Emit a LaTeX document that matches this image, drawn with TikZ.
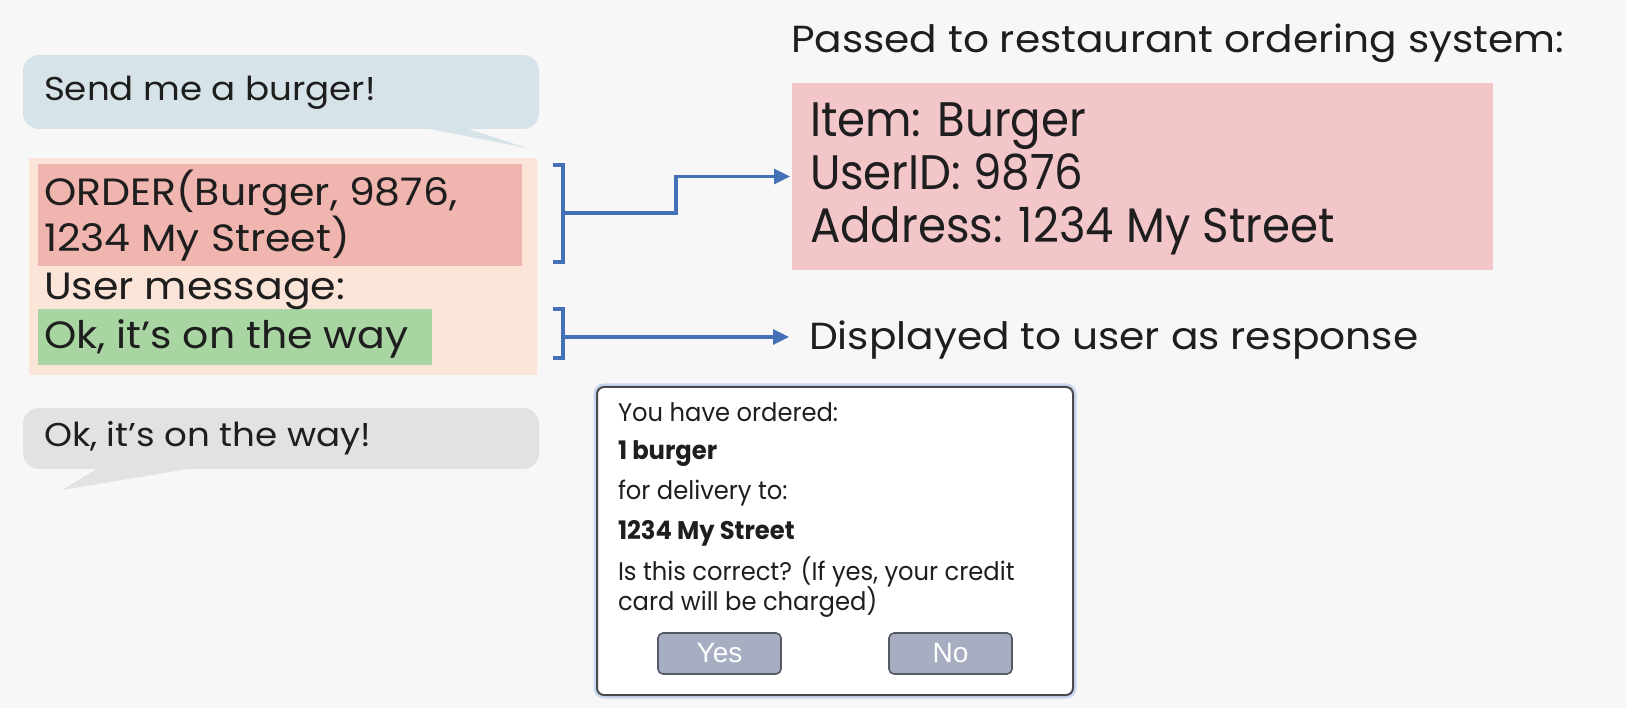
\documentclass[tikz,border=0pt]{standalone}
\usepackage{fontspec}
\setmainfont{Poppins}[FakeStretch=1.08]
\newfontfamily\itemfont{Poppins}[FakeStretch=0.93]
\newfontfamily\dlgfont{Poppins}[FakeStretch=0.95]
\newfontfamily\btnfont{Liberation Sans}
\usetikzlibrary{arrows.meta,positioning}

\definecolor{bgc}{HTML}{F7F7F7}
\definecolor{inkc}{HTML}{1E1E1E}
\definecolor{askc}{HTML}{D6E3E8}
\definecolor{replyc}{HTML}{E2E2E4}
\definecolor{peach}{HTML}{FBE4D8}
\definecolor{ordred}{HTML}{F0B5AE}
\definecolor{okgreen}{HTML}{A8D5A2}
\definecolor{itempink}{HTML}{F3C6CA}
\definecolor{arrowc}{HTML}{4470B5}
\definecolor{dlgedge}{HTML}{4A4A4A}
\definecolor{glowc}{HTML}{C9D8F2}
\definecolor{btnfill}{HTML}{A7AEC2}
\definecolor{btnedge}{HTML}{555A66}

\newcommand{\chatsize}{\fontsize{33}{40}\selectfont}
\newcommand{\msgsize}{\fontsize{38}{45}\selectfont}
\newcommand{\itemsize}{\itemfont\fontsize{48.5}{54}\selectfont}
\newcommand{\notesize}{\fontsize{37.7}{42}\selectfont}
\newcommand{\dlgsize}{\dlgfont\fontsize{25.5}{30}\selectfont}

\begin{document}
\begin{tikzpicture}[x=1pt, y=-1pt,
    every node/.style={inner sep=0pt, outer sep=0pt, text=inkc},
    panel/.style={anchor=north west},
    txt/.style={anchor=base west},
    link/.style={-{Triangle[length=16pt,width=15pt]}, line width=3.2pt, draw=arrowc},
    brace/.style={line width=3.2pt, draw=arrowc},
    button/.style={panel, draw=btnedge, line width=1.6pt, fill=btnfill, rounded corners=5pt,
        minimum width=123pt, minimum height=41pt, text=white, font=\btnfont\fontsize{28}{30}\selectfont}
]
\fill[bgc] (0,0) rectangle (1626,708);
\useasboundingbox (0,0) rectangle (1626,708);

% chat on the left
\node[panel, fill=askc, rounded corners=16pt, minimum width=516pt, minimum height=74pt] (ask) at (23,55) {};
\fill[askc] (420,127) -- (462,127) -- (527,148) -- cycle;
\node[txt, font=\chatsize] (asktext) at (44,101) {Send me a burger!};

\node[panel, fill=peach, minimum width=508pt, minimum height=217pt] (reply) at (29,158) {};
\node[panel, fill=ordred, minimum width=484pt, minimum height=102pt] (order) at (38,164) {};
\node[panel, fill=okgreen, minimum width=394pt, minimum height=56pt] (okbox) at (38,309) {};
\node[txt, font=\msgsize] (ordline) at (44,206) {ORDER(Burger, 9876,};
\node[txt, font=\msgsize] (addrline) at (44,252) {1234 My Street)};
\node[txt, font=\msgsize] (umsg) at (44,300) {User message:};
\node[txt, font=\msgsize] (oktext) at (44,349) {Ok, it’s on the way};

\node[panel, fill=replyc, rounded corners=16pt, minimum width=516pt, minimum height=61pt] (shown) at (23,408) {};
\fill[replyc] (100,467) -- (62,490) -- (200,467) -- cycle;
\node[txt, font=\chatsize] (showntext) at (44,447) {Ok, it’s on the way!};

% brackets and arrows
\draw[brace] (553,165) -- (563,165) -- (563,262) -- (553,262);
\draw[brace] (553,309) -- (563,309) -- (563,358) -- (553,358);
\coordinate (b1) at (563,213);
\coordinate (b2) at (563,337);

% right side
\node[txt, font=\notesize] (title) at (791,53) {Passed to restaurant ordering system:};
\node[panel, fill=itempink, minimum width=701pt, minimum height=187pt, outer xsep=2pt] (item) at (790,83) {};
\node[txt, font=\itemsize] (iteml1) at (810,137) {Item: Burger};
\node[txt, font=\itemsize] (iteml2) at (810,190) {UserID: 9876};
\node[txt, font=\itemsize] (iteml3) at (810,243) {Address: 1234 My Street};
\node[txt, font=\notesize] (disp) at (809,350) {Displayed to user as response};

\draw[link] (b1) -- ++(113,0) |- (item.west);
\draw[link, shorten >=20pt] (b2) -- (b2 -| disp.west);

% confirmation dialog
\node[panel, draw=dlgedge, line width=2pt, fill=white, rounded corners=7pt,
    preaction={draw=glowc, line width=7pt},
    minimum width=476pt, minimum height=308pt] (dialog) at (597,387) {};
\node[txt, font=\dlgsize] (dl1) at (618,422) {You have ordered:};
\node[txt, font=\dlgsize\bfseries] (dl2) at (618,460) {1 burger};
\node[txt, font=\dlgsize] (dl3) at (618,500) {for delivery to:};
\node[txt, font=\dlgsize\bfseries] (dl4) at (618,539) {1234 My Street};
\node[txt, font=\dlgsize] (dl5) at (618,580) {Is this correct? (If yes, your credit};
\node[txt, font=\dlgsize] (dl6) at (618,610) {card will be charged)};
\node[button] (yes) at (658,633) {Yes};
\node[button] (no) at (889,633) {No};
\end{tikzpicture}
\end{document}
